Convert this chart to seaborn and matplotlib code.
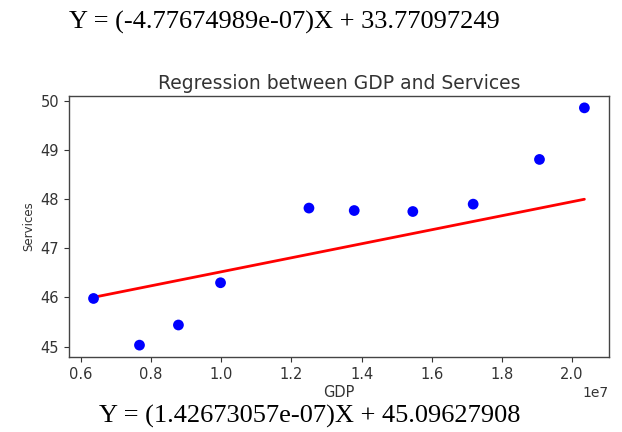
import matplotlib
matplotlib.use("Agg")
import matplotlib.pyplot as plt
import seaborn as sns
import numpy as np
import pandas as pd

# GDP (in units of 1e7) and services share for each observation
gdp = [0.636e7, 0.767e7, 0.878e7, 0.998e7, 1.250e7, 1.379e7, 1.546e7, 1.718e7, 1.907e7, 2.035e7]
services = [45.98, 45.03, 45.44, 46.30, 47.82, 47.77, 47.75, 47.90, 48.81, 49.86]

# fitted coefficients shown in the equations
slope_other, intercept_other = -4.77674989e-07, 33.77097249
slope, intercept = 1.42673057e-07, 45.09627908

df = pd.DataFrame({"GDP": gdp, "Services": services})
fit = pd.DataFrame({"GDP": [min(gdp), max(gdp)]})
fit["Services"] = intercept + slope * fit["GDP"]

sns.set_style("ticks")
plt.rcParams["font.family"] = ["DejaVu Sans"]

fig = plt.figure(figsize=(6.22, 4.32), dpi=100)
ax = fig.add_axes([0.1109, 0.1736, 0.979 - 0.1109, 0.7778 - 0.1736])

sns.scatterplot(data=df, x="GDP", y="Services", ax=ax, color="#0000ff",
                s=60, edgecolor="none", zorder=3)
sns.lineplot(data=fit, x="GDP", y="Services", ax=ax, color="#ff0000",
             linewidth=2.0, zorder=2)

ax.margins(0.05)
text_col = "#333333"
ax.set_title("Regression between GDP and Services", fontsize=13.5, color=text_col, pad=5)
ax.set_xlabel("GDP", fontsize=10.5, color=text_col, labelpad=2)
ax.set_ylabel("Services", fontsize=8.5, color=text_col)
ax.tick_params(labelsize=10.5, colors=text_col)
ax.xaxis.get_offset_text().set_color(text_col)
ax.xaxis.get_offset_text().set_fontsize(10)
for sp in ax.spines.values():
    sp.set_visible(True)
    sp.set_color("#444444")
    sp.set_linewidth(1.0)

serif = ["Liberation Serif", "DejaVu Serif"]
fig.text(0.457, 0.947, f"Y = ({slope_other:.8e})X + {intercept_other:.8f}",
         ha="center", va="center", fontsize=19, family=serif, color="black")
fig.text(0.498, 0.035, f"Y = ({slope:.8e})X + {intercept:.8f}",
         ha="center", va="center", fontsize=19, family=serif, color="black")

fig.savefig("out.png", dpi=100, facecolor="white")
